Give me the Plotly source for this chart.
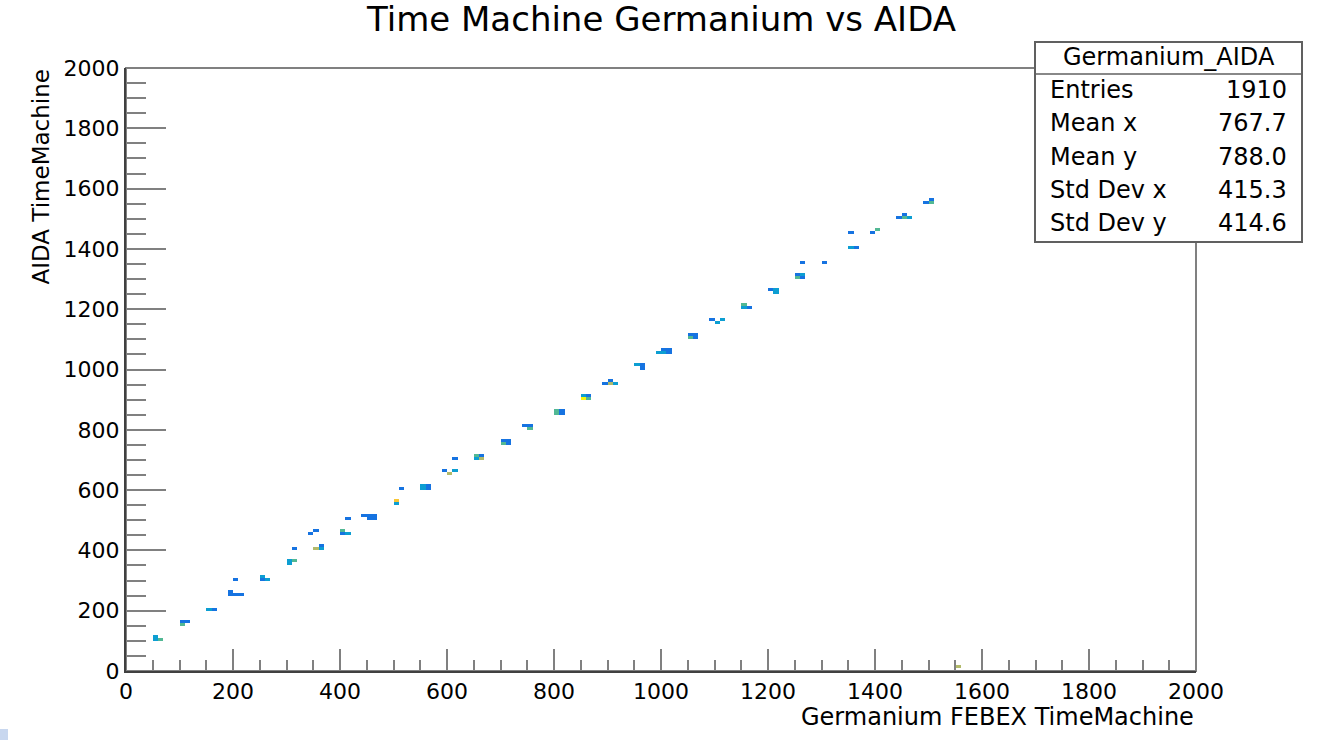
import numpy as np
import plotly.graph_objects as go

# ---------------- data (bin lower edges, bin width 10) ----------------
bin_width = 10
n_bins = 200

# colour level of each filled bin: 1 blue, 2 cyan, 3 green, 4 olive, 5 orange, 6 yellow
cell_x = [50, 50, 60,
          100, 110, 100,
          150, 160,
          190, 190, 200, 210,
          200,
          250, 250, 260,
          300, 300, 310,
          310, 350, 360, 360,
          340, 350,
          400, 400, 410,
          410,
          440, 450, 460, 450, 460,
          500, 500,
          510,
          550, 550, 560, 560,
          590, 610, 600,
          610,
          650, 660, 650, 660,
          700, 710, 700, 710,
          740, 750, 750,
          800, 800, 810, 810,
          850, 860, 850, 860,
          900, 890, 900, 910,
          950, 960, 960,
          1000, 1010, 1010, 990, 1000,
          1050, 1060, 1050, 1060,
          1090, 1100, 1110,
          1150, 1150, 1160,
          1200, 1210, 1210,
          1250, 1260, 1250, 1260,
          1260, 1300,
          1350, 1360,
          1350, 1390, 1400,
          1450, 1440, 1450, 1460,
          1500, 1490, 1500,
          1550]
cell_y = [100, 110, 100,
          160, 160, 150,
          200, 200,
          260, 250, 250, 250,
          300,
          310, 300, 300,
          350, 360, 360,
          400, 400, 410, 400,
          450, 460,
          460, 450, 450,
          500,
          510, 510, 510, 500, 500,
          560, 550,
          600,
          600, 610, 600, 610,
          660, 660, 650,
          700,
          710, 710, 700, 700,
          760, 760, 750, 750,
          810, 810, 800,
          850, 860, 850, 860,
          910, 910, 900, 900,
          960, 950, 950, 950,
          1010, 1010, 1000,
          1060, 1060, 1050, 1050, 1050,
          1110, 1110, 1100, 1100,
          1160, 1150, 1160,
          1210, 1200, 1200,
          1260, 1260, 1250,
          1310, 1310, 1300, 1300,
          1350, 1350,
          1400, 1400,
          1450, 1450, 1460,
          1510, 1500, 1500, 1500,
          1560, 1550, 1550,
          10]
cell_level = [2, 2, 3,
              1, 1, 3,
              2, 1,
              1, 1, 1, 1,
              1,
              2, 1, 2,
              2, 2, 3,
              1, 4, 1, 2,
              1, 1,
              3, 1, 2,
              1,
              1, 1, 1, 1, 1,
              5, 2,
              1,
              2, 2, 1, 1,
              1, 2, 4,
              1,
              3, 1, 2, 4,
              1, 1, 3, 1,
              1, 1, 3,
              3, 3, 1, 1,
              2, 1, 6, 3,
              1, 1, 4, 2,
              2, 1, 1,
              1, 1, 1, 2, 2,
              1, 1, 3, 1,
              1, 2, 2,
              3, 2, 1,
              1, 2, 2,
              1, 2, 3, 1,
              1, 1,
              2, 1,
              1, 1, 3,
              1, 1, 3, 2,
              1, 1, 3,
              4]

level_colors = ["rgb(22,115,225)", "rgb(12,158,210)", "rgb(82,184,148)",
                "rgb(178,186,106)", "rgb(248,198,52)", "rgb(246,246,16)"]

title_text = "Time Machine Germanium vs AIDA"
x_title = "Germanium FEBEX TimeMachine"
y_title = "AIDA TimeMachine"
stats_name = "Germanium_AIDA"
stats_labels = ["Entries", "Mean x", "Mean y", "Std Dev x", "Std Dev y"]
stats_values = ["1910", "767.7", "788.0", "415.3", "414.6"]

# ---------------- build histogram grid ----------------
z = np.full((n_bins, n_bins), np.nan)
for cx, cy, lv in zip(cell_x, cell_y, cell_level):
    z[cy // bin_width, cx // bin_width] = lv

n_lv = len(level_colors)
colorscale = []
for i, c in enumerate(level_colors):
    colorscale.append([i / n_lv, c])
    colorscale.append([(i + 1) / n_lv, c])

W, H = 1322, 740
L, R, T, B = 126, 126, 68, 69
pw, ph = W - L - R, H - T - B


def px_x(px):
    return (px - L) / pw


def px_y(py):
    return (H - B - py) / ph


FONT = "DejaVu Sans"

fig = go.Figure()
fig.add_trace(go.Heatmap(
    z=z, x0=bin_width / 2, dx=bin_width, y0=bin_width / 2, dy=bin_width,
    colorscale=colorscale, zmin=0.5, zmax=n_lv + 0.5, showscale=False,
    hoverongaps=False, zsmooth=False,
))

axis_common = dict(
    range=[0, 2000], dtick=200, tick0=0, ticks="inside",
    tickcolor="#808080", tickwidth=2,
    showline=True, linecolor="#404040", linewidth=2,
    showgrid=False, zeroline=False,
    tickfont=dict(family=FONT, size=22, color="black"),
)
fig.update_xaxes(**axis_common, ticklen=22, ticklabelstandoff=0,
                 minor=dict(ticks="inside", ticklen=11, dtick=50, tickcolor="#808080", tickwidth=2))
fig.update_yaxes(**axis_common, ticklen=40,
                 minor=dict(ticks="inside", ticklen=20, dtick=50, tickcolor="#808080", tickwidth=2))

shapes = [
    # frame
    dict(type="rect", xref="paper", yref="paper", x0=0, x1=1, y0=0, y1=1,
         line=dict(color="#808080", width=2), layer="below"),
    # stats box
    dict(type="rect", xref="paper", yref="paper",
         x0=px_x(1035), x1=px_x(1302), y0=px_y(242), y1=px_y(42),
         line=dict(color="#606060", width=2), fillcolor="white", layer="above"),
    dict(type="line", xref="paper", yref="paper",
         x0=px_x(1035), x1=px_x(1302), y0=px_y(74), y1=px_y(74),
         line=dict(color="#606060", width=1.5)),
    # small artefact in corner
    dict(type="rect", xref="paper", yref="paper",
         x0=px_x(0), x1=px_x(8), y0=px_y(740), y1=px_y(729),
         line=dict(width=0), fillcolor="#c8d7ef"),
]

annotations = [
    dict(text=title_text, xref="paper", yref="paper", x=px_x(661), y=px_y(19),
         xanchor="center", yanchor="middle", showarrow=False,
         font=dict(family=FONT, size=34, color="black")),
    dict(text=x_title, xref="paper", yref="paper", x=px_x(1196), y=px_y(717),
         xanchor="right", yanchor="middle", showarrow=False,
         font=dict(family=FONT, size=24, color="black")),
    dict(text=y_title, xref="paper", yref="paper", x=px_x(40), y=1,
         xanchor="center", yanchor="top", textangle=-90, showarrow=False,
         font=dict(family=FONT, size=23, color="black")),
    dict(text=stats_name, xref="paper", yref="paper", x=px_x(1168.5), y=px_y(57),
         xanchor="center", yanchor="middle", showarrow=False,
         font=dict(family=FONT, size=24, color="black")),
]
row_py = [90, 123, 157, 190, 223]
for lab, val, py in zip(stats_labels, stats_values, row_py):
    annotations.append(dict(text=lab, xref="paper", yref="paper", x=px_x(1048), y=px_y(py),
                            xanchor="left", yanchor="middle", showarrow=False,
                            font=dict(family=FONT, size=24, color="black")))
    annotations.append(dict(text=val, xref="paper", yref="paper", x=px_x(1289), y=px_y(py),
                            xanchor="right", yanchor="middle", showarrow=False,
                            font=dict(family=FONT, size=24, color="black")))

fig.update_layout(
    width=W, height=H, margin=dict(l=L, r=R, t=T, b=B, pad=0),
    paper_bgcolor="white", plot_bgcolor="white",
    shapes=shapes, annotations=annotations, showlegend=False,
    font=dict(family=FONT),
)

fig.write_html("out.html", config={"displayModeBar": False},
               post_script="document.body.style.margin='0';document.body.style.overflow='hidden';")
